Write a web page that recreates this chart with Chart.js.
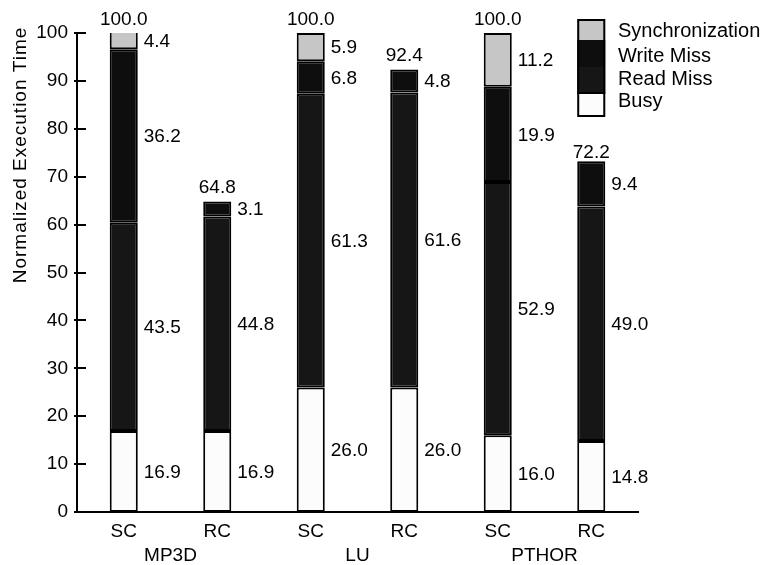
<!DOCTYPE html>
<html><head><meta charset="utf-8">
<script src="https://cdn.jsdelivr.net/npm/chart.js@4.4.1/dist/chart.umd.min.js"></script>
<style>html,body{margin:0;padding:0;background:#fff;}</style>
</head><body>
<canvas id="c" width="769" height="565" style="display:block;width:769px;height:565px"></canvas>
<script>
// ---- data ----
const categories = ['SC', 'RC', 'SC', 'RC', 'SC', 'RC'];
const groups = ['MP3D', 'LU', 'PTHOR'];
const busy      = [16.9, 16.9, 26.0, 26.0, 16.0, 14.8];
const readMiss  = [43.5, 44.8, 61.3, 61.6, 52.9, 49.0];
const writeMiss = [36.2,  3.1,  6.8,  4.8, 19.9,  9.4];
const sync      = [ 4.4,  0,    5.9,  0,   11.2,  0  ];
const totals    = [100.0, 64.8, 100.0, 92.4, 100.0, 72.2];
const yMin = 0, yMax = 100, yStep = 10;
const yTitle = 'Normalized Execution Time';

const FONT = "'Liberation Sans', Arial, Helvetica, sans-serif";

const yTitlePlugin = {
  id: 'yTitlePlugin',
  afterDraw(chart) {
    const ctx = chart.ctx;
    ctx.save();
    ctx.translate(21, 155);
    ctx.rotate(-Math.PI / 2);
    ctx.font = '19px ' + FONT;
    if ('letterSpacing' in ctx) ctx.letterSpacing = '1px';
    ctx.fillStyle = '#000';
    ctx.textAlign = 'center';
    ctx.textBaseline = 'middle';
    ctx.fillText(yTitle, 0, 0);
    ctx.restore();
  }
};

const innerTicks = {
  id: 'innerTicks',
  afterDraw(chart) {
    const ctx = chart.ctx, y = chart.scales.y, left = chart.chartArea.left;
    ctx.save();
    ctx.strokeStyle = '#000';
    ctx.lineWidth = 2;
    y.ticks.forEach(t => {
      const py = Math.round(y.getPixelForValue(t.value));
      ctx.beginPath();
      ctx.moveTo(left - 3, py);
      ctx.lineTo(left + 9, py);
      ctx.stroke();
    });
    ctx.restore();
  }
};

const valueLabels = {
  id: 'valueLabels',
  afterDatasetsDraw(chart) {
    const ctx = chart.ctx, area = chart.chartArea, ys = chart.scales.y;
    ctx.save();
    ctx.font = '19px ' + FONT;
    ctx.fillStyle = '#000';
    ctx.textAlign = 'left';
    ctx.textBaseline = 'middle';
    chart.data.datasets.forEach((ds, i) => {
      const meta = chart.getDatasetMeta(i);
      meta.data.forEach((bar, j) => {
        const v = ds.data[j];
        if (!v) return;
        const top = Math.max(bar.y, area.top);
        const mid = (top + bar.base) / 2;
        ctx.fillText(v.toFixed(1), bar.x + bar.width / 2 + 6, mid + 1);
      });
    });
    ctx.textAlign = 'center';
    ctx.textBaseline = 'bottom';
    const m0 = chart.getDatasetMeta(0);
    totals.forEach((t, j) => {
      const bar = m0.data[j];
      ctx.fillText(t.toFixed(1), bar.x, ys.getPixelForValue(t) - 4);
    });
    ctx.restore();
  }
};

const stackLegend = {
  id: 'stackLegend',
  afterDraw(chart) {
    const ctx = chart.ctx;
    const meta = chart.getDatasetMeta(0);
    const last = meta.data[meta.data.length - 1];
    const x0 = last.x - last.width / 2, w = last.width;
    const bounds = [19, 40, 67, 93, 117];
    const textY = [31.5, 56, 79, 101.5];
    const items = chart.data.datasets.slice().reverse();
    ctx.save();
    items.forEach((ds, k) => {
      ctx.fillStyle = ds.backgroundColor;
      ctx.fillRect(x0, bounds[k], w, bounds[k + 1] - bounds[k]);
    });
    ctx.strokeStyle = '#000';
    ctx.lineWidth = 2;
    ctx.strokeRect(x0 + 1, bounds[0] + 1, w - 2, bounds[4] - bounds[0] - 2);
    ctx.beginPath();
    ctx.moveTo(x0, bounds[3]); ctx.lineTo(x0 + w, bounds[3]);
    ctx.stroke();
    ctx.font = '20px ' + FONT;
    ctx.fillStyle = '#000';
    ctx.textAlign = 'left';
    ctx.textBaseline = 'middle';
    items.forEach((ds, k) => ctx.fillText(ds.label, 618, textY[k]));
    ctx.restore();
  }
};

const mk = (label, data, color) => ({
  label, data, backgroundColor: color, borderColor: '#000', borderWidth: 2,
  borderSkipped: false, barPercentage: 0.3, categoryPercentage: 1.0
});

new Chart(document.getElementById('c'), {
  type: 'bar',
  data: {
    labels: categories,
    datasets: [
      mk('Busy', busy, '#fcfcfc'),
      mk('Read Miss', readMiss, '#161616'),
      mk('Write Miss', writeMiss, '#0e0e0e'),
      mk('Synchronization', sync, '#c6c6c6')
    ]
  },
  options: {
    responsive: false,
    animation: false,
    devicePixelRatio: 1,
    layout: { padding: { top: 33, right: 131, left: 0, bottom: 0 } },
    plugins: { legend: { display: false }, tooltip: { enabled: false } },
    scales: {
      x: {
        stacked: true,
        weight: 0,
        grid: { display: false, drawTicks: false },
        border: { display: true, color: '#000', width: 2 },
        ticks: { color: '#000', font: { family: FONT, size: 19 }, padding: 8, maxRotation: 0 },
        afterFit(s) { s.height = 30; }
      },
      x2: {
        type: 'category',
        labels: groups,
        position: 'bottom',
        weight: 1,
        offset: true,
        grid: { display: false, drawTicks: false },
        border: { display: false },
        ticks: { color: '#000', font: { family: FONT, size: 19 }, padding: 2, maxRotation: 0 },
        afterFit(s) { s.height = 23; }
      },
      y: {
        stacked: true,
        min: yMin, max: yMax,
        grid: { display: false, drawTicks: false },
        border: { display: true, color: '#000', width: 2 },
        ticks: { stepSize: yStep, color: '#000', font: { family: FONT, size: 19 }, padding: 9 },
        afterFit(s) { s.width = 77; }
      }
    }
  },
  plugins: [yTitlePlugin, innerTicks, valueLabels, stackLegend]
});
</script>
</body></html>
